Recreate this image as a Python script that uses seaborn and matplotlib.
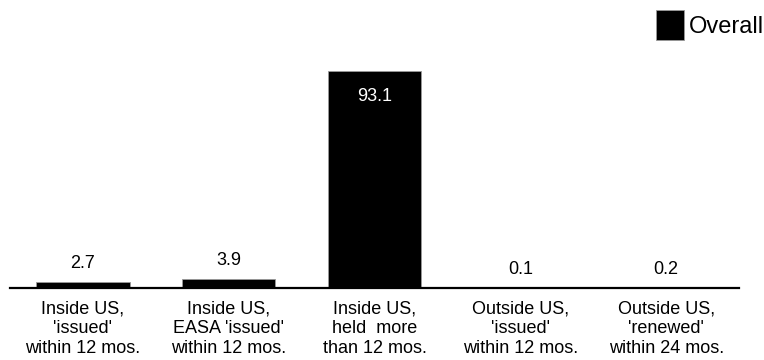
import matplotlib
matplotlib.use("Agg")
import matplotlib.pyplot as plt
import seaborn as sns
import pandas as pd
from matplotlib.patches import Patch

# dados
categorias = [
    "Inside US,\n'issued'\nwithin 12 mos.",
    "Inside US,\nEASA 'issued'\nwithin 12 mos.",
    "Inside US,\nheld  more\nthan 12 mos.",
    "Outside US,\n'issued'\nwithin 12 mos.",
    "Outside US,\n'renewed'\nwithin 24 mos.",
]
valores = [2.7, 3.9, 93.1, 0.1, 0.2]
serie = "Overall"

sns.set_style("white")
plt.rcParams["font.family"] = ["Liberation Sans", "DejaVu Sans"]
plt.rcParams["text.color"] = "black"
plt.rcParams["xtick.color"] = "black"

df = pd.DataFrame({"Categoria": categorias, "Valor": valores, "Serie": serie})

fig = plt.figure(figsize=(7.64, 3.6), dpi=100)
ax = fig.add_axes([10 / 764, 0.2, 729 / 764, 233 / 360])

sns.barplot(data=df, x="Categoria", y="Valor", hue="Serie", palette=["black"],
            width=0.64, ax=ax, legend=False, edgecolor="#9a9a9a", linewidth=0.6)

ax.set_xlim(-0.5, 4.5)
ax.set_ylim(0, 100)

# rótulos de valor
for i, v in enumerate(valores):
    if v > 50:
        ax.annotate(f"{v:.1f}", (i, v), xytext=(0, -12), textcoords="offset points",
                    ha="center", va="top", color="white", fontsize=13)
    else:
        ax.annotate(f"{v:.1f}", (i, v), xytext=(0, 7), textcoords="offset points",
                    ha="center", va="bottom", color="black", fontsize=13)

ax.set_xlabel("")
ax.set_ylabel("")
ax.set_yticks([])
ax.tick_params(axis="x", length=0, pad=9, labelsize=13, labelcolor="black")
for s in ["top", "left", "right"]:
    ax.spines[s].set_visible(False)
ax.spines["bottom"].set_linewidth(1.6)
ax.spines["bottom"].set_color("black")

# legenda
fig.legend(handles=[Patch(facecolor="black", edgecolor="#9a9a9a", linewidth=0.6, label=serie)],
           loc="upper right", bbox_to_anchor=(764 / 764, 1 - 10 / 360),
           frameon=False, fontsize=17, handlelength=1.2, handleheight=1.6,
           handletextpad=0.2, borderpad=0, borderaxespad=0, labelcolor="black")

fig.savefig("out.png", dpi=100)
